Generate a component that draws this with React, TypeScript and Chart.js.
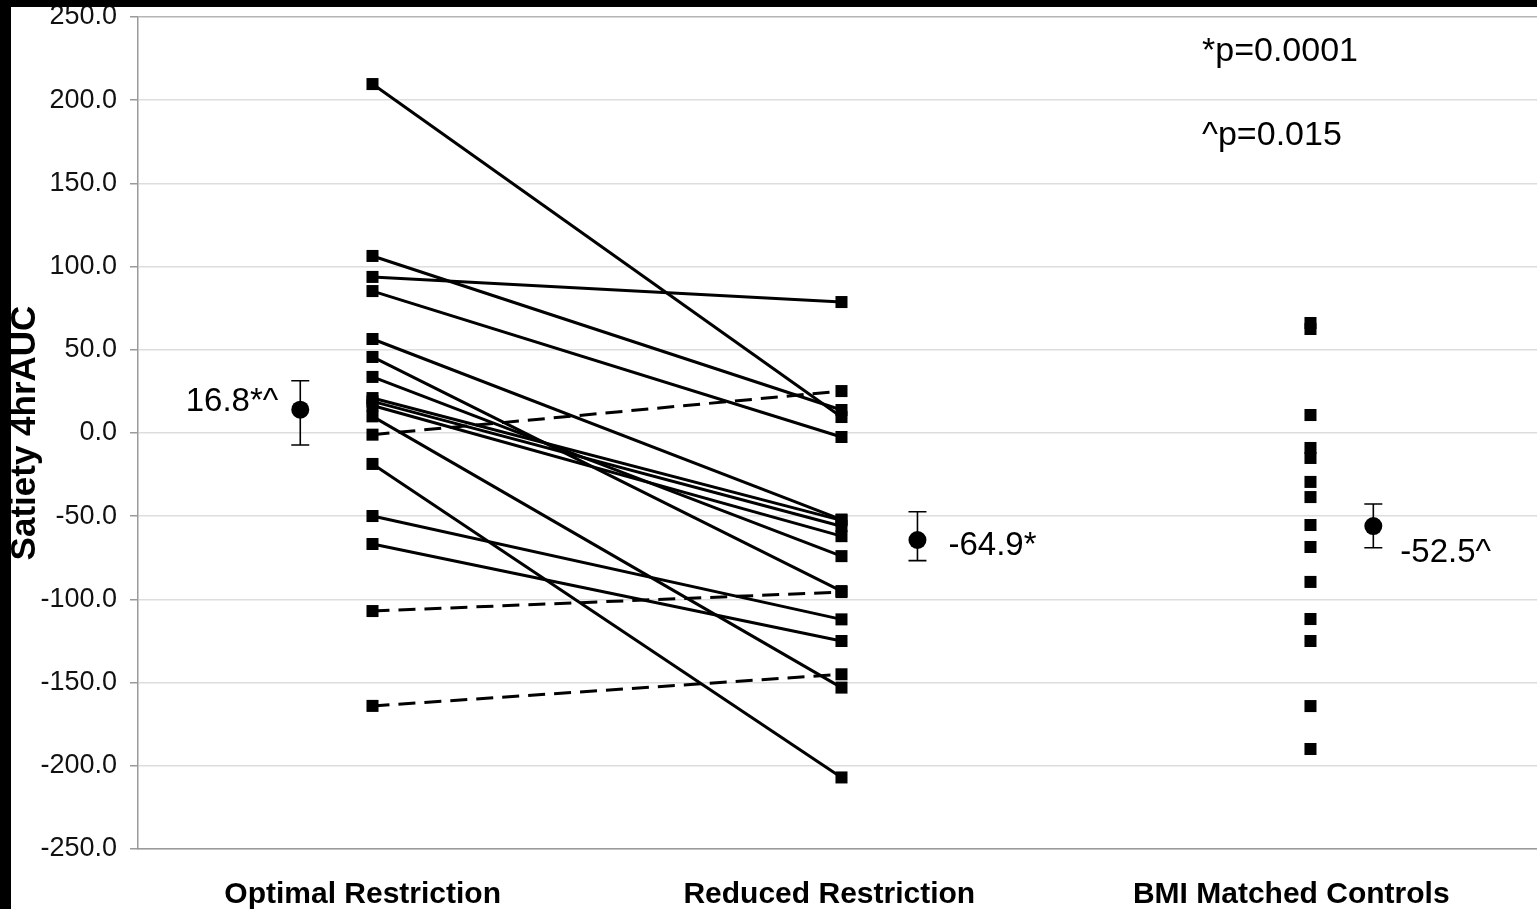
import React, { useEffect, useRef } from "react";
import { Chart, registerables } from "chart.js";

Chart.register(...registerables);

const categories = ["Optimal Restriction", "Reduced Restriction", "BMI Matched Controls"];
const categoryTickX = [0.979, 1.974, 2.959];
const groupX = [1, 2, 3];

const solidOptimal = [209.7, 106.4, 93.8, 85.3, 56.5, 45.7, 33.7, 21.0, 19.0, 16.5, 10.0, -18.6, -49.9, -66.7];
const solidReduced = [9.6, 13.8, 78.7, -2.4, -52.0, -95.0, -74.0, -52.5, -56.0, -62.0, -153.0, -207.0, -112.0, -125.0];

const dashedOptimal = [-1.0, -107.0, -164.0];
const dashedReduced = [25.2, -95.6, -145.0];

const bmiControls = [66.1, 62.5, 10.8, -9.0, -15.0, -29.4, -38.5, -55.3, -68.5, -89.5, -111.8, -125.0, -164.1, -189.9];

const meanX = [0.846, 2.162, 3.134];
const meanValues = [14.0, -64.3, -55.9];
const errLow = [-7.2, -76.7, -69.0];
const errHigh = [31.4, -47.3, -42.7];
const meanLabels = ["16.8*^", "-64.9*", "-52.5^"];

const pValueNotes = ["*p=0.0001", "^p=0.015"];
const yAxisTitle = "Satiety 4hrAUC";

const FONT = '"Liberation Sans", Arial, Helvetica, sans-serif';

const annotationPlugin = {
  id: "annotations",
  beforeDatasetsDraw(chart: any) {
    const { ctx } = chart;
    const xs = chart.scales.x;
    const ys = chart.scales.y;
    ctx.save();
    ctx.strokeStyle = "#000";
    ctx.lineWidth = 1.6;
    for (let i = 0; i < meanX.length; i++) {
      const x = xs.getPixelForValue(meanX[i]);
      const yt = ys.getPixelForValue(errHigh[i]);
      const yb = ys.getPixelForValue(errLow[i]);
      ctx.beginPath();
      ctx.moveTo(x, yt);
      ctx.lineTo(x, yb);
      ctx.moveTo(x - 9, yt);
      ctx.lineTo(x + 9, yt);
      ctx.moveTo(x - 9, yb);
      ctx.lineTo(x + 9, yb);
      ctx.stroke();
    }
    ctx.restore();
  },
  afterDatasetsDraw(chart: any) {
    const { ctx, chartArea } = chart;
    const xs = chart.scales.x;
    const ys = chart.scales.y;
    ctx.save();
    ctx.fillStyle = "#000";
    ctx.font = `33px ${FONT}`;
    ctx.textBaseline = "middle";
    const offsets = [
      { dx: -22, dy: -8, align: "right" },
      { dx: 31, dy: 6, align: "left" },
      { dx: 27, dy: 27, align: "left" },
    ];
    for (let i = 0; i < meanLabels.length; i++) {
      const x = xs.getPixelForValue(meanX[i]);
      const y = ys.getPixelForValue(meanValues[i]);
      ctx.textAlign = offsets[i].align;
      ctx.fillText(meanLabels[i], x + offsets[i].dx, y + offsets[i].dy);
    }
    ctx.font = `34px ${FONT}`;
    ctx.textAlign = "left";
    ctx.fillText(pValueNotes[0], chartArea.left + 1064, chartArea.top + 35);
    ctx.fillText(pValueNotes[1], chartArea.left + 1064, chartArea.top + 119);
    ctx.restore();
  },
};

export default function App() {
  const canvasRef = useRef<HTMLCanvasElement | null>(null);

  useEffect(() => {
    document.body.style.margin = "0";
    document.body.style.background = "#000";
    document.body.style.overflow = "hidden";
    const canvas = canvasRef.current;
    if (!canvas) return;

    const pointStyleOpts = {
      pointStyle: "rect",
      pointRadius: 8.5,
      pointBackgroundColor: "#000",
      pointBorderColor: "#000",
      pointBorderWidth: 0,
    };

    const datasets: any[] = [];
    for (let i = 0; i < solidOptimal.length; i++) {
      datasets.push({
        data: [
          { x: groupX[0], y: solidOptimal[i] },
          { x: groupX[1], y: solidReduced[i] },
        ],
        showLine: true,
        borderColor: "#000",
        borderWidth: 3,
        ...pointStyleOpts,
      });
    }
    for (let i = 0; i < dashedOptimal.length; i++) {
      datasets.push({
        data: [
          { x: groupX[0], y: dashedOptimal[i] },
          { x: groupX[1], y: dashedReduced[i] },
        ],
        showLine: true,
        borderColor: "#000",
        borderWidth: 3,
        borderDash: [17, 9],
        ...pointStyleOpts,
      });
    }
    datasets.push({
      data: bmiControls.map((v) => ({ x: groupX[2], y: v })),
      showLine: false,
      ...pointStyleOpts,
    });
    datasets.push({
      data: meanValues.map((v, i) => ({ x: meanX[i], y: v })),
      showLine: false,
      pointStyle: "circle",
      pointRadius: 9,
      pointBackgroundColor: "#000",
      pointBorderColor: "#000",
      pointBorderWidth: 0,
    });

    const chart = new Chart(canvas, {
      type: "scatter",
      data: { datasets },
      plugins: [annotationPlugin],
      options: {
        animation: false,
        responsive: true,
        maintainAspectRatio: false,
        layout: { autoPadding: false, padding: { top: 10, left: 0, right: 0, bottom: 0 } },
        plugins: {
          legend: { display: false },
          tooltip: { enabled: false },
        },
        scales: {
          x: {
            type: "linear",
            min: 0.5,
            max: 3.483,
            afterBuildTicks: (scale: any) => {
              scale.ticks = categoryTickX.map((v) => ({ value: v }));
            },
            afterFit: (scale: any) => {
              scale.height = 60;
              scale.paddingLeft = 0;
              scale.paddingRight = 0;
            },
            grid: { display: false, drawTicks: false },
            border: { display: true, color: "#9a9a9a", width: 1.5 },
            ticks: {
              padding: 28,
              maxRotation: 0,
              autoSkip: false,
              color: "#000",
              font: { family: FONT, size: 30, weight: "bold" },
              callback: (_v: any, i: number) => categories[i],
            },
          },
          y: {
            min: -250,
            max: 250,
            afterFit: (scale: any) => {
              scale.width = 127;
              scale.paddingTop = 0;
              scale.paddingBottom = 0;
            },
            grid: {
              color: (c: any) => (c.tick && c.tick.value === 250 ? "#b5b5b5" : "#dddddd"),
              lineWidth: 1.5,
              tickLength: 8,
              tickColor: "#9a9a9a",
            },
            border: { display: true, color: "#9a9a9a", width: 1.5 },
            ticks: {
              stepSize: 50,
              padding: 13,
              color: "#111",
              font: { family: FONT, size: 27 },
              callback: (v: any) => Number(v).toFixed(1),
            },
            title: {
              display: true,
              text: yAxisTitle,
              color: "#000",
              font: { family: FONT, size: 35, weight: "bold", lineHeight: 0.8 },
              padding: { top: 0, bottom: 0 },
            },
          },
        },
      },
    });
    return () => chart.destroy();
  }, []);

  return (
    <div
      style={{
        position: "absolute",
        left: 11,
        top: 7,
        width: 1526,
        height: 902,
        background: "#fff",
      }}
    >
      <canvas ref={canvasRef} />
    </div>
  );
}
